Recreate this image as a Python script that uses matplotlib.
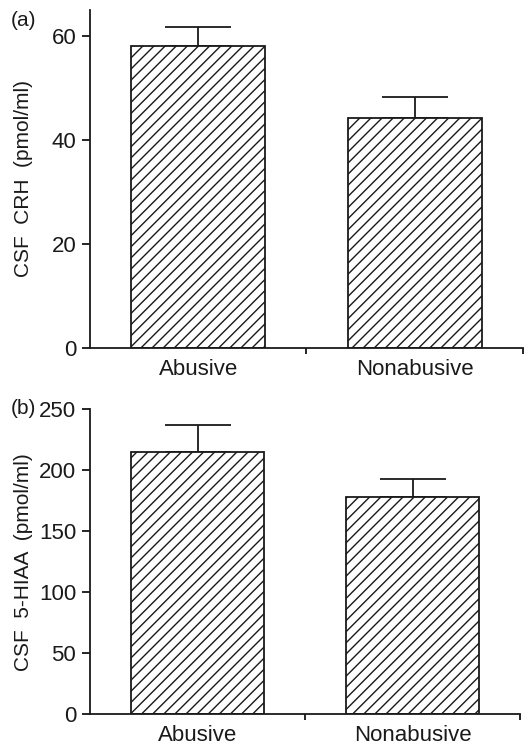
import matplotlib
matplotlib.use("Agg")
import matplotlib.pyplot as plt

# group means and upper SEM for each panel
groups = ["Abusive", "Nonabusive"]
crh_mean = [58.0, 44.3]
crh_sem = [3.7, 3.9]
hiaa_mean = [215.2, 177.9]
hiaa_sem = [21.8, 15.0]

plt.rcParams["font.family"] = ["Liberation Sans", "DejaVu Sans"]
plt.rcParams["hatch.linewidth"] = 1.0
plt.rcParams["hatch.color"] = "#222222"

INK = "#1a1a1a"


def draw_panel(ax, means, sems, ylim, yticks, ylabel):
    x = range(len(groups))
    ax.bar(x, means, width=0.62, color="white", edgecolor=INK,
           linewidth=1.3, hatch="///", zorder=2)
    ax.errorbar(x, means, yerr=[[0] * len(sems), sems], fmt="none",
                ecolor=INK, elinewidth=1.3, capsize=24, capthick=1.3,
                zorder=1)
    ax.set_xlim(-0.5, 1.5)
    ax.set_ylim(*ylim)
    ax.set_yticks(yticks)
    ax.set_xticks(list(x))
    ax.set_xticklabels(groups, fontsize=16, color=INK)
    ax.set_xticks([0.5, 1.5], minor=True)
    ax.tick_params(axis="x", which="major", length=0, pad=8)
    ax.tick_params(axis="x", which="minor", length=4, width=1.2, direction="out")
    ax.tick_params(axis="y", length=6, width=1.2, labelsize=16, pad=4,
                   labelcolor=INK)
    for side in ("top", "right"):
        ax.spines[side].set_visible(False)
    for side in ("left", "bottom"):
        ax.spines[side].set_linewidth(1.3)
        ax.spines[side].set_color(INK)
    ax.set_ylabel(ylabel, fontsize=15, color=INK)
    ax.yaxis.set_label_coords(-0.132, 0.5)


fig = plt.figure(figsize=(5.24, 7.48), dpi=100)

ax_a = fig.add_axes([0.1718, 0.5348, 0.826, 0.4519])
draw_panel(ax_a, crh_mean, crh_sem, (0, 65), [0, 20, 40, 60],
           "CSF  CRH  (pmol/ml)")

ax_b = fig.add_axes([0.1718, 0.0451, 0.8206, 0.4078])
draw_panel(ax_b, hiaa_mean, hiaa_sem, (0, 250), [0, 50, 100, 150, 200, 250],
           "CSF  5-HIAA  (pmol/ml)")

fig.text(11 / 524, 1 - 20 / 748, "(a)", fontsize=15, va="center", ha="left",
         color=INK)
fig.text(11 / 524, 1 - 409 / 748, "(b)", fontsize=15, va="center", ha="left",
         color=INK)

fig.savefig("out.png", dpi=100)
